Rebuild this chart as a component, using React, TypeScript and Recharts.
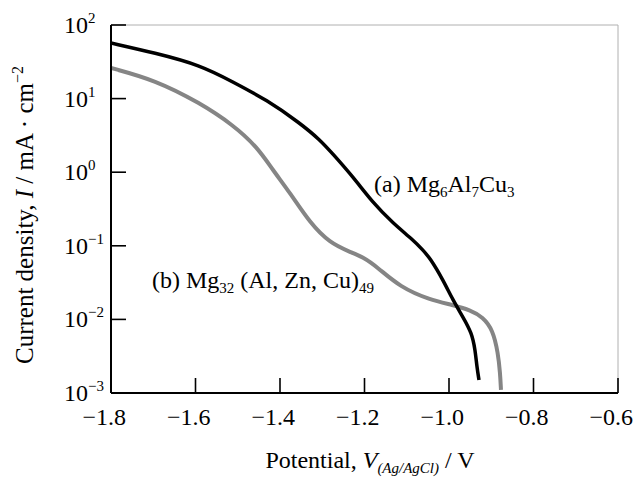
import { LineChart, Line, XAxis, YAxis, ReferenceLine, ReferenceDot } from 'recharts';

const FONT = "'Liberation Serif', 'Times New Roman', Times, serif";
const txt = { fontFamily: FONT };

// (a) Mg6Al7Cu3
const potentialA = [
  -1.8, -1.696, -1.589, -1.511, -1.431, -1.353, -1.305, -1.275, -1.227, -1.18, -1.133, -1.085, -1.062,
  -1.045, -1.014, -0.991, -0.967, -0.946, -0.938, -0.934, -0.929,
];
const currentA = [
  56.9, 41.7, 28.6, 16.8, 9.57, 4.66, 2.74, 1.77, 0.861, 0.382, 0.204, 0.12, 0.0877, 0.0683, 0.0343,
  0.0184, 0.0108, 0.00653, 0.00384, 0.00226, 0.0015,
];

// (b) Mg32(Al, Zn, Cu)49
const potentialB = [
  -1.8, -1.696, -1.589, -1.511, -1.454, -1.417, -1.376, -1.329, -1.282, -1.234, -1.204, -1.17, -1.116,
  -1.045, -0.991, -0.95, -0.92, -0.896, -0.884, -0.879, -0.877, -0.877,
];
const currentB = [
  26.1, 17.9, 8.71, 4.38, 2.2, 1.07, 0.521, 0.204, 0.109, 0.0824, 0.0705, 0.0515, 0.0275, 0.0184, 0.0157,
  0.0134, 0.0108, 0.00718, 0.00349, 0.00187, 0.0011, 0.0011,
];

const xTicks = [-1.8, -1.6, -1.4, -1.2, -1.0, -0.8, -0.6];
const yTicks = [0.001, 0.01, 0.1, 1, 10, 100];

const seriesA = potentialA.map((x, i) => ({ x, y: currentA[i] }));
const seriesB = potentialB.map((x, i) => ({ x, y: currentB[i] }));

const PLOT_LEFT = 111;
const PLOT_BOTTOM = 393;
const TICK_LEN = 15;

const minus = (s: string) => s.replace('-', '\u2212');

function XTick(props: any) {
  const { x, payload } = props;
  return (
    <g>
      <path d={`M${x},${PLOT_BOTTOM}V${PLOT_BOTTOM - TICK_LEN}`} stroke="#000" strokeWidth={1.6} fill="none" />
      {/* digits centred on the tick, minus sign hangs to the left */}
      <text x={x + 15} y={425} textAnchor="end" style={txt} fontSize={24} fill="#000">
        {minus(payload.value.toFixed(1))}
      </text>
    </g>
  );
}

function YTick(props: any) {
  const { y, payload } = props;
  const exp = Math.round(Math.log10(payload.value));
  return (
    <g>
      <path d={`M${PLOT_LEFT},${y}H${PLOT_LEFT + TICK_LEN}`} stroke="#000" strokeWidth={1.6} fill="none" />
      <text x={64} y={y + 8} style={txt} fontSize={24} fill="#000">
        10
        <tspan fontSize={15} dy={-10}>
          {minus(String(exp))}
        </tspan>
      </text>
    </g>
  );
}

function YTitle() {
  return (
    <text transform="translate(33,215) rotate(-90)" textAnchor="middle" style={txt} fontSize={25} fill="#000">
      Current density, <tspan fontStyle="italic">I</tspan> / mA · cm
      <tspan fontSize={16} dy={-10}>
        −2
      </tspan>
    </text>
  );
}

function XTitle() {
  return (
    <text x={370} y={468} textAnchor="middle" style={txt} fontSize={24} fill="#000">
      Potential, <tspan fontStyle="italic">V</tspan>
      <tspan fontStyle="italic" fontSize={15} dy={5}>
        (Ag/AgCl)
      </tspan>
      <tspan dy={-5}> / V</tspan>
    </text>
  );
}

function LabelA(props: any) {
  const { x, y } = props.viewBox;
  return (
    <text x={x} y={y} style={txt} fontSize={24} fill="#000">
      (a) Mg
      <tspan fontSize={15} dy={5}>6</tspan>
      <tspan dy={-5}>Al</tspan>
      <tspan fontSize={15} dy={5}>7</tspan>
      <tspan dy={-5}>Cu</tspan>
      <tspan fontSize={15} dy={5}>3</tspan>
    </text>
  );
}

function LabelB(props: any) {
  const { x, y } = props.viewBox;
  return (
    <text x={x} y={y} style={txt} fontSize={24} fill="#000">
      (b) Mg
      <tspan fontSize={15} dy={5}>32</tspan>
      <tspan dy={-5}> (Al, Zn, Cu)</tspan>
      <tspan fontSize={15} dy={5}>49</tspan>
    </text>
  );
}

export default function App() {
  return (
    <div style={{ position: 'absolute', left: 0, top: 0, width: 637, height: 484, background: '#fff', fontFamily: FONT }}>
      <LineChart width={637} height={484} margin={{ top: 25, right: 19, bottom: 0, left: 0 }}>
        <XAxis
          type="number"
          dataKey="x"
          domain={[-1.8, -0.6]}
          ticks={xTicks}
          allowDataOverflow
          interval={0}
          height={91}
          tickLine={false}
          axisLine={{ stroke: '#000', strokeWidth: 2 }}
          tick={(p: any) => <XTick {...p} />}
          label={{ content: () => <XTitle /> }}
        />
        <YAxis
          type="number"
          dataKey="y"
          scale="log"
          domain={[0.001, 100]}
          ticks={yTicks}
          allowDataOverflow
          interval={0}
          width={111}
          tickLine={false}
          axisLine={{ stroke: '#000', strokeWidth: 2 }}
          tick={(p: any) => <YTick {...p} />}
          label={{ content: () => <YTitle /> }}
        />
        <ReferenceLine y={100} stroke="#b0b0b0" strokeWidth={1} ifOverflow="visible" />
        <ReferenceLine x={-0.6} stroke="#b0b0b0" strokeWidth={1} ifOverflow="visible" />
        <Line
          data={seriesB}
          dataKey="y"
          type="basis"
          stroke="#858585"
          strokeWidth={4}
          dot={false}
          isAnimationActive={false}
        />
        <Line
          data={seriesA}
          dataKey="y"
          type="basis"
          stroke="#000"
          strokeWidth={3.5}
          dot={false}
          isAnimationActive={false}
        />
        <ReferenceDot x={-1.1775} y={0.538} r={0} fill="none" stroke="none" label={{ content: (p: any) => <LabelA {...p} /> }} />
        <ReferenceDot x={-1.703} y={0.0267} r={0} fill="none" stroke="none" label={{ content: (p: any) => <LabelB {...p} /> }} />
      </LineChart>
    </div>
  );
}
